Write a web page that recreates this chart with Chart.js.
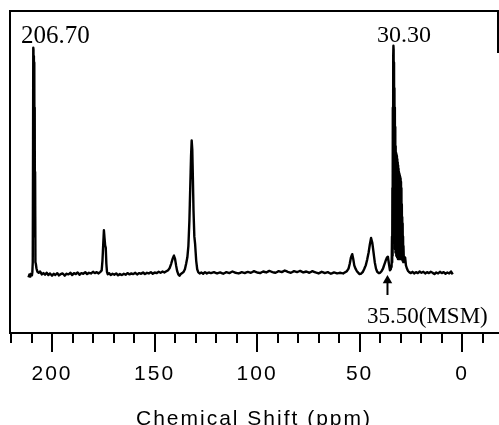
<!DOCTYPE html>
<html>
<head>
<meta charset="utf-8">
<script src="https://cdn.jsdelivr.net/npm/chart.js@4.4.1/dist/chart.umd.min.js"></script>
<style>
  html, body { margin: 0; padding: 0; background: #fff; }
  canvas { display: block; }
</style>
</head>
<body>
<canvas id="c" width="499" height="425"></canvas>
<script>
// 13C NMR spectrum (ppm, relative intensity 0-100)
// the dense zig-zags at ~209 and ~30 ppm are the unresolved, ink-filled lines of the scan
const shiftPpm = [
  211.5, 211.0, 210.6, 210.2, 209.8, 209.6, 209.4, 209.25, 209.15, 209.05, 208.95, 208.85, 208.75, 208.65, 208.55,
  208.45, 208.35, 208.25, 208.1, 207.9, 207.6, 207.1,
  206.5, 205.8, 205.0, 204.2, 203.4, 202.6, 201.8, 201.0, 200.0, 199.2, 198.4, 197.5, 196.6, 195.8, 194.8,
  193.8, 193.0, 192.0, 191.0, 190.2, 189.3, 188.4, 187.5, 186.6, 185.7, 184.8, 183.8, 182.9, 182.0, 181.0,
  180.0, 179.1, 178.2, 177.3, 176.4, 175.8, 175.4, 175.0, 174.7, 174.4, 174.1, 173.8, 173.5, 173.2, 172.8,
  172.2, 171.4, 170.5, 169.6, 168.7, 167.8, 166.9, 166.0, 165.0, 164.1, 163.2, 162.2, 161.3, 160.4, 159.4,
  158.5, 157.5, 156.6, 155.6, 154.7, 153.7, 152.8, 151.8, 150.9, 149.9, 149.0, 148.0, 147.1, 146.1, 145.2,
  144.2, 143.4, 142.6, 141.9, 141.2, 140.6, 140.0, 139.5, 139.0, 138.4, 137.8, 137.2, 136.5, 135.8, 135.2,
  134.6, 134.0, 133.5, 133.0, 132.6, 132.2, 131.9, 131.6, 131.3, 131.0, 130.6, 130.2, 129.7, 129.2, 128.7,
  128.0, 127.2, 126.3, 125.4, 124.5, 123.5, 122.5, 121.0, 119.5, 118.0, 116.5, 115.0, 113.5, 112.0, 110.5,
  109.0, 107.5, 106.0, 104.5, 103.0, 101.5, 100.0, 98.5, 97.0, 95.5, 94.0, 92.5, 91.0, 89.5, 88.0,
  86.5, 85.0, 83.5, 82.0, 80.5, 79.0, 77.5, 76.0, 74.5, 73.0, 71.5, 70.0, 68.5, 67.0, 65.5,
  64.0, 62.5, 61.0, 59.5, 58.0, 57.0, 56.2, 55.4, 54.8, 54.2, 53.6, 53.1, 52.6, 52.0, 51.4,
  50.8, 50.0, 49.3, 48.5, 47.8, 47.0, 46.3, 45.6, 45.0, 44.4, 43.8, 43.2, 42.6, 42.0, 41.4,
  40.7, 40.0, 39.3, 38.6, 37.9, 37.2, 36.6, 36.2, 35.7, 35.2, 34.8, 34.5,
  34.4, 34.3, 34.2, 34.1, 34.0, 33.9, 33.8, 33.7, 33.6, 33.5, 33.4, 33.3, 33.2, 33.1, 33.0,
  32.9, 32.8, 32.7, 32.6, 32.5, 32.4, 32.3, 32.2, 32.1, 32.0, 31.9, 31.8, 31.7, 31.6, 31.5,
  31.4, 31.3, 31.2, 31.1, 31.0, 30.9, 30.8, 30.7, 30.6, 30.5, 30.4, 30.3, 30.2, 30.1, 30.0,
  29.9, 29.8, 29.7, 29.6, 29.5, 29.4, 29.3, 29.2, 29.1, 29.0, 28.9, 28.8, 28.7, 28.6, 28.4,
  28.1, 27.8, 27.4, 26.9, 26.4, 25.8,
  25.0, 24.2, 23.4, 22.5, 21.6, 20.7, 19.8, 18.9, 18.0, 17.1, 16.2, 15.3, 14.4,
  13.5, 12.6, 11.7, 10.8, 9.9, 9.0, 8.1, 7.2, 6.3, 5.4, 4.6
];
const intensity = [
  17.3, 18.2, 17.5, 18.4, 17.9, 18.9, 22.0, 60.0, 88.6, 88.0, 40.0, 86.0, 50.0, 84.0, 45.0,
  70.0, 30.0, 50.0, 22.0, 21.5, 20.1, 19.0,
  18.7, 19.1, 18.2, 18.6, 18.1, 18.7, 18.0, 18.5, 17.8, 18.4, 18.0, 18.6, 17.9, 18.3, 18.5,
  17.8, 18.4, 18.2, 18.7, 18.0, 18.6, 18.3, 18.8, 18.1, 18.6, 18.4, 18.9, 18.3, 18.7, 18.5,
  19.0, 18.6, 18.9, 18.5, 19.0, 19.4, 22.5, 28.0, 31.9, 29.5, 27.2, 26.5, 21.5, 19.0, 18.2,
  18.6, 18.0, 18.4, 18.1, 18.5, 17.9, 18.3, 18.0, 18.4, 18.1, 18.6, 18.2, 18.5, 18.3, 18.7,
  18.2, 18.6, 18.4, 18.8, 18.3, 18.7, 18.5, 18.9, 18.4, 18.8, 18.6, 19.0, 18.7, 19.1, 18.8,
  19.2, 19.5, 20.2, 21.5, 23.0, 24.1, 23.0, 21.0, 19.3, 18.2, 17.8, 18.3, 18.6, 19.0, 19.8,
  21.5, 23.5, 27.0, 35.0, 45.0, 55.0, 59.8, 57.0, 48.0, 38.0, 30.0, 27.5, 22.5, 19.8, 18.9,
  18.5, 18.8, 18.4, 18.9, 18.5, 18.8, 18.6, 18.9, 18.5, 18.8, 18.4, 18.9, 18.6, 19.1, 18.7,
  18.5, 18.9, 18.6, 19.0, 18.7, 19.2, 18.8, 18.6, 19.1, 18.8, 19.3, 18.9, 18.7, 19.2, 18.9,
  19.4, 19.0, 18.7, 19.2, 18.9, 19.3, 18.8, 19.1, 18.7, 19.2, 18.8, 18.5, 19.0, 18.6, 18.9,
  18.4, 18.8, 18.5, 18.7, 18.5, 18.9, 19.2, 20.0, 21.5, 23.5, 24.5, 23.0, 21.0, 20.0, 19.3,
  18.8, 18.3, 18.4, 18.9, 19.8, 21.0, 22.8, 25.0, 27.5, 29.5, 28.0, 25.0, 22.0, 20.0, 19.0,
  18.6, 18.7, 19.2, 20.0, 21.3, 22.6, 23.5, 23.7, 21.5, 19.5, 19.8, 21.0,
  20.5, 24.0, 30.0, 22.0, 45.0, 24.0, 70.0, 30.0, 86.0, 89.2, 88.0, 40.0, 84.0, 30.0, 76.0,
  28.0, 70.0, 26.0, 64.0, 25.0, 58.0, 25.0, 56.0, 24.0, 55.5, 24.0, 55.0, 23.5, 54.0, 23.5,
  53.0, 23.0, 52.0, 23.0, 51.0, 23.0, 50.0, 23.0, 49.5, 23.0, 49.0, 23.0, 48.5, 23.0, 48.0,
  23.0, 47.0, 23.0, 45.0, 23.0, 40.0, 23.0, 36.0, 22.5, 34.0, 22.5, 30.0, 22.0, 27.0, 22.0,
  23.5, 23.5, 21.0, 20.0, 19.3, 18.9,
  18.6, 19.0, 18.5, 18.9, 18.6, 19.1, 18.7, 19.0, 18.5, 18.9, 18.6, 19.0, 18.7,
  18.3, 18.8, 18.5, 19.0, 18.6, 18.9, 18.4, 18.8, 18.5, 19.1, 18.2
];

// arrow marking the MSM line
const arrowShift = [36.4, 36.4];
const arrowIntensity = [11.8, 16.3];

const majorTicks = [200, 150, 100, 50, 0];
const peakLabels = ['206.70', '30.30', '35.50(MSM)'];

const SANS = '"Liberation Sans", Arial, sans-serif';
const SERIF = '"Liberation Serif", "Times New Roman", serif';

// frame, tick marks (short minor, long major) and the peak labels
const framePlugin = {
  id: 'frame',
  beforeDraw(chart) {
    chart.ctx.letterSpacing = '2px'; // the scan's axis text is set wide
  },
  afterDraw(chart) {
    const { ctx, chartArea: a, scales: { x } } = chart;
    ctx.letterSpacing = '0px';
    ctx.save();
    ctx.strokeStyle = '#000';
    ctx.lineWidth = 2;
    ctx.beginPath();
    ctx.moveTo(a.left, a.bottom);
    ctx.lineTo(a.left, a.top);
    ctx.lineTo(a.right, a.top);
    ctx.lineTo(a.right, a.top + 42);
    x.ticks.forEach(t => {
      const px = Math.round(x.getPixelForValue(t.value));
      const len = majorTicks.includes(Math.round(t.value)) ? 19 : 10;
      ctx.moveTo(px, a.bottom);
      ctx.lineTo(px, a.bottom + len);
    });
    ctx.stroke();

    ctx.fillStyle = '#000';
    ctx.textAlign = 'left';
    ctx.textBaseline = 'alphabetic';
    ctx.font = '25px ' + SERIF;
    ctx.fillText(peakLabels[0], a.left + 11, a.top + 32);
    ctx.font = '24px ' + SERIF;
    ctx.fillText(peakLabels[1], a.left + 367, a.top + 31);
    ctx.font = '23px ' + SERIF;
    ctx.fillText(peakLabels[2], a.left + 357, a.bottom - 10);
    ctx.restore();
  }
};

new Chart(document.getElementById('c'), {
  type: 'scatter',
  data: {
    datasets: [
      {
        data: shiftPpm.map((s, i) => ({ x: s, y: intensity[i] })),
        showLine: true,
        borderColor: '#000',
        borderWidth: 2.4,
        borderJoinStyle: 'round',
        pointRadius: 0,
        tension: 0.0001 // keeps the full path, so dense zig-zags fill in
      },
      {
        data: arrowShift.map((s, i) => ({ x: s, y: arrowIntensity[i] })),
        showLine: true,
        borderColor: '#000',
        borderWidth: 2,
        backgroundColor: '#000',
        pointStyle: 'triangle',
        pointRadius: [0, 5.5],
        pointBorderWidth: 0
      }
    ]
  },
  options: {
    responsive: false,
    animation: false,
    devicePixelRatio: 1,
    events: [],
    layout: { autoPadding: false, padding: { left: 10, right: 1, top: 11, bottom: 0 } },
    plugins: { legend: { display: false }, tooltip: { enabled: false } },
    scales: {
      x: {
        type: 'linear',
        reverse: true,
        min: -17.5,
        max: 220.5,
        border: { display: true, color: '#000', width: 2 },
        grid: { display: true, drawOnChartArea: false, drawTicks: true, tickLength: 28.5, tickColor: 'rgba(0,0,0,0)' },
        ticks: {
          stepSize: 10,
          includeBounds: false,
          autoSkip: false,
          maxRotation: 0,
          padding: 0,
          color: '#000',
          font: { family: SANS, size: 21 },
          callback: v => majorTicks.includes(Math.round(v)) && Math.abs(v - Math.round(v)) < 1e-6 ? String(Math.round(v)) : ''
        },
        title: {
          display: true,
          text: 'Chemical Shift (ppm)',
          color: '#000',
          font: { family: SANS, size: 21, lineHeight: 0.571 },
          padding: { top: 26.3, bottom: 0 }
        }
      },
      y: { display: false, min: 0, max: 100 }
    }
  },
  plugins: [framePlugin]
});
</script>
</body>
</html>
